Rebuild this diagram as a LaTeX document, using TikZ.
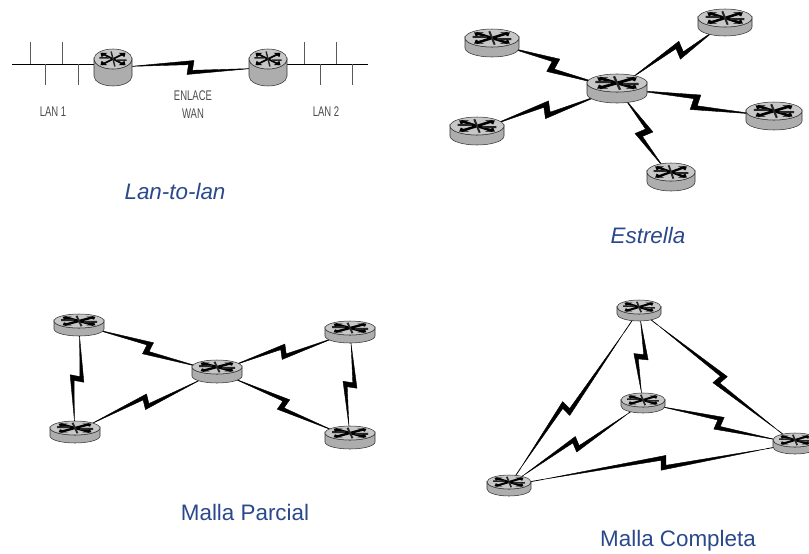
\documentclass[tikz,border=0pt]{standalone}
\usepackage{fontspec}
\setmainfont{Liberation Sans}
\usetikzlibrary{calc}
\pgfdeclarelayer{links}
\pgfsetlayers{links,main}
\definecolor{capblue}{RGB}{42,72,140}
\definecolor{labgrey}{gray}{0.3}
\definecolor{walltone}{gray}{0.68}
\definecolor{toptone}{gray}{0.78}
\tikzset{
  x=0.75pt,y=-0.75pt,
  routernode/.style={inner sep=0pt,minimum size=2pt},
  wire/.style={line width=0.5pt,black},
  tick/.style={line width=0.45pt,black!65},
  boltfill/.style={fill=black,draw=black,line width=0.3pt,line join=round},
  boltwire/.style={line width=0.6pt,black},
  caption/.style={font=\itshape\fontsize{16.8}{20}\selectfont,text=capblue,inner sep=0pt},
  captionup/.style={font=\fontsize{16.8}{20}\selectfont,text=capblue,inner sep=0pt},
  lanlabel/.style={font=\fontsize{10.5}{12}\selectfont,text=labgrey,inner sep=0pt,xscale=0.68},
}
% name, cx, rx, ytop, ry, wall
\newcommand\router[6]{%
  \pgfmathsetmacro\rcy{#4+#5}%
  \pgfmathsetmacro\rmid{#4+#5+#6/2}%
  \pgfmathsetmacro\rlw{#3*0.07}%
  \node[routernode] (#1) at (#2,\rmid) {};
  \begin{scope}[shift={(#2,\rcy)}]
    \draw[fill=walltone,draw=black!80,line width=0.4pt]
      (-#3,0) -- (-#3,#6) arc[start angle=180,end angle=0,x radius=#3,y radius=#5]
      -- (#3,0) arc[start angle=0,end angle=180,x radius=#3,y radius=#5] -- cycle;
    \draw[fill=toptone,draw=black!80,line width=0.4pt] (0,0) ellipse[x radius=#3,y radius=#5];
    \begin{scope}[xscale=#3,yscale=#5]
      \draw[line width=\rlw pt,black] (-.58,-.55) -- (.58,.55) (-.58,.55) -- (.58,-.55);
      \draw[line width=0.8*\rlw pt,black!85] (-.72,-.12) -- (-.2,-.12) (.2,.12) -- (.72,.12) (-.1,-.75) -- (.1,.75);
      \fill[black] (-.66,-.62) -- (-.3,-.62) -- (-.6,-.18) -- cycle
        (.66,-.62) -- (.3,-.62) -- (.6,-.18) -- cycle
        (-.66,.62) -- (-.3,.62) -- (-.6,.18) -- cycle
        (.66,.62) -- (.3,.62) -- (.6,.18) -- cycle;
    \end{scope}
  \end{scope}
}
% a, b, position, sign, size
\newcommand\bolt[5]{%
  \begin{pgfonlayer}{links}
  \coordinate (bm) at ($(#1)!#3!(#2)$);
  \pgfmathsetlengthmacro\bola{3.5*#5*0.75pt}%
  \pgfmathsetlengthmacro\bolb{2*#5*0.75pt}%
  \pgfmathsetlengthmacro\bolc{7*#5*0.75pt}%
  \pgfmathsetlengthmacro\bold{2.8*#5*0.75pt}%
  \coordinate (bf) at ($(bm)!\bola!(#2)$);
  \coordinate (bg) at ($(bm)!\bolb!(#2)$);
  \coordinate (bh) at ($(bm)!-\bola!(#2)$);
  \coordinate (bi) at ($(bm)!-\bolb!(#2)$);
  \coordinate (ut) at ($(bf)!\bolc!#4*90:(#2)$);
  \coordinate (di) at ($(bg)!\bold!-#4*90:(#2)$);
  \coordinate (dt) at ($(bh)!\bolc!-#4*90:(#2)$);
  \coordinate (ui) at ($(bi)!\bold!#4*90:(#2)$);
  \coordinate (ws) at ($(#1)!0.22!($(ut)!0.5!(ui)$)$);
  \coordinate (we) at ($(#2)!0.22!($(dt)!0.5!(di)$)$);
  \draw[boltwire] (#1) -- (ws) (#2) -- (we);
  \draw[boltfill] (ws) -- (ut) -- (di) -- (we) -- (dt) -- (ui) -- cycle;
  \end{pgfonlayer}
}
\begin{document}
\begin{tikzpicture}
\useasboundingbox (0,0) rectangle (809,553);

% ---------- Lan-to-lan
\router{wa}{113}{19}{49}{10}{17}
\router{wb}{268}{19}{49}{10}{17}
\coordinate (busl) at (12,64);
\coordinate (busr) at (368,64);
\begin{pgfonlayer}{links}
  \draw[wire] (busl) -- (wa.center |- busl);
  \draw[wire] (wb.center |- busr) -- (busr);
\end{pgfonlayer}
\foreach \tx/\ya/\yb in {30/42/64,62/42/64,45/64/85,78/64/85,304/42/64,336/42/64,320/64/85,352/64/85}{
  \coordinate (ta) at (\tx,\ya);
  \coordinate (tb) at (\tx,\yb);
  \draw[tick] (ta) -- (tb);
}
\bolt{wa}{wb}{0.5}{1}{1}
\node[lanlabel] (l1) at (53,112) {LAN 1};
\node[lanlabel] (l2) at (326,112) {LAN 2};
\node[lanlabel] (l3) at (193,96) {ENLACE};
\node[lanlabel] (l4) at (193,114) {WAN};
\node[caption] (c1) at (175,191) {Lan-to-lan};

% ---------- Estrella
\router{sc}{617}{30}{74}{9}{11}
\router{s1}{492}{27}{29}{9}{10}
\router{s2}{725}{27}{9}{9}{9}
\router{s3}{774}{28}{102}{9}{10}
\router{s4}{477}{27}{117}{9}{10}
\router{s5}{671}{24}{163}{9}{10}
\bolt{s1}{sc}{0.49}{1}{1.15}
\bolt{sc}{s2}{0.58}{1}{1.15}
\bolt{sc}{s3}{0.5}{1}{1.15}
\bolt{s4}{sc}{0.5}{1}{1.15}
\bolt{sc}{s5}{0.5}{1}{1.15}
\node[caption] (c2) at (648,235) {Estrella};

% ---------- Malla Parcial
\router{p1}{79}{25}{314}{7}{8}
\router{p2}{75}{25}{421}{7}{8}
\router{pc}{217}{25}{360}{7}{9}
\router{p3}{350}{25}{321}{7}{8}
\router{p4}{350}{25}{426}{7}{9}
\bolt{p1}{p2}{0.5}{1}{1}
\bolt{p1}{pc}{0.5}{1}{1}
\bolt{p2}{pc}{0.5}{1}{1}
\bolt{pc}{p3}{0.5}{1}{1}
\bolt{pc}{p4}{0.5}{1}{1}
\bolt{p3}{p4}{0.5}{1}{1}
\node[captionup] (c3) at (245,512) {Malla Parcial};

% ---------- Malla Completa
\router{m1}{639}{22}{300}{7}{7}
\router{m2}{643}{22}{393}{7}{6}
\router{m3}{795}{22}{433}{7}{7}
\router{m4}{509}{22}{475}{7}{7}
\bolt{m4}{m1}{0.44}{1}{1}
\bolt{m1}{m2}{0.5}{1}{1}
\bolt{m1}{m3}{0.52}{1}{1}
\bolt{m4}{m2}{0.5}{1}{1}
\bolt{m2}{m3}{0.5}{1}{1}
\bolt{m4}{m3}{0.54}{1}{1}
\node[captionup] (c4) at (678,541) {Malla Completa};
\end{tikzpicture}
\end{document}
